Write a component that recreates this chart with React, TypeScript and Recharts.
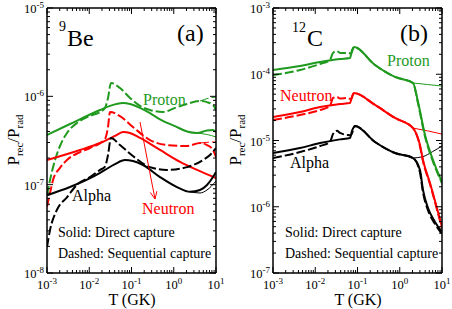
import React from 'react';
import { LineChart, Line, XAxis, YAxis } from 'recharts';

type Pt = [number, number];

const FONT = "'Liberation Serif', 'DejaVu Serif', serif";
const GREEN = '#1f9a1f';
const RED = '#ff0000';
const BLACK = '#000000';

// temperature axis (GK), shared by both panels
const tempMajor = [1e-3, 1e-2, 1e-1, 1, 10];
const beMajor = [1e-8, 1e-7, 1e-6, 1e-5];
const cMajor = [1e-7, 1e-6, 1e-5, 1e-4, 1e-3];
const minorSteps = [2, 3, 4, 5, 6, 7, 8, 9];

// ---- (a) 9Be ----
const beProtonDirect: Pt[] = [
  [1e-3, 3.65e-7], [3.5e-3, 4.86e-7], [1.8e-2, 7.0e-7], [3.1e-2, 7.8e-7], [6.3e-2, 8.4e-7],
  [9.2e-2, 8.2e-7], [0.159, 7.4e-7], [0.274, 6.45e-7], [0.473, 5.5e-7], [1.07, 4.6e-7],
  [2.06, 4.0e-7], [3.55, 3.85e-7], [6.1, 4.1e-7], [8.5, 4.15e-7], [10, 3.95e-7],
];
const beProtonDirectThin: Pt[] = [[3.2, 3.85e-7], [6.1, 3.7e-7], [10, 3.47e-7]];
const beProtonSeq: Pt[] = [
  [1e-3, 7.6e-8], [1.18e-3, 1.13e-7], [1.55e-3, 1.9e-7], [2.03e-3, 2.74e-7], [2.97e-3, 3.85e-7],
  [5.13e-3, 5.0e-7], [1.04e-2, 6.0e-7], [1.8e-2, 6.65e-7], [2.36e-2, 7.4e-7], [2.78e-2, 9.6e-7],
  [3.27e-2, 1.42e-6], [5.34e-2, 1.24e-6], [9.2e-2, 9.6e-7], [0.159, 7.8e-7], [0.274, 7.0e-7],
  [0.557, 6.65e-7], [1.07, 7.4e-7], [2.06, 8.2e-7], [4.18, 8.85e-7], [6.12, 8.6e-7],
  [8.49, 8.0e-7], [10, 7.0e-7],
];
const beProtonSeqThin: Pt[] = [[4.18, 8.85e-7], [7.2, 9.6e-7], [10, 9.8e-7]];

const beNeutronDirect: Pt[] = [
  [1e-3, 1.9e-7], [6.04e-3, 2.47e-7], [1.8e-2, 2.96e-7], [4.07e-2, 3.56e-7], [6.3e-2, 3.95e-7],
  [9.2e-2, 3.85e-7], [0.159, 3.38e-7], [0.473, 2.47e-7], [1.41, 1.81e-7], [3.55, 1.47e-7],
  [10, 1.19e-7],
];
const beNeutronSeq: Pt[] = [
  [1e-3, 5.6e-8], [1.18e-3, 8.05e-8], [1.39e-3, 1.13e-7], [2.03e-3, 1.55e-7], [2.97e-3, 1.9e-7],
  [6.04e-3, 2.34e-7], [1.04e-2, 2.6e-7], [2.36e-2, 3.3e-7], [2.78e-2, 4.5e-7], [3.1e-2, 6.65e-7],
  [5.34e-2, 5.98e-7], [0.108, 4.5e-7], [0.274, 3.2e-7], [0.692, 2.81e-7], [2.06, 2.74e-7],
  [4.18, 2.96e-7], [6.12, 2.81e-7], [8.49, 2.47e-7], [10, 2.06e-7],
];
const beNeutronSeqThin: Pt[] = [[4.18, 2.96e-7], [8.49, 3.04e-7], [10, 3.04e-7]];

const beAlphaDirect: Pt[] = [
  [1e-3, 7.6e-8], [3.5e-3, 9.4e-8], [1.8e-2, 1.36e-7], [2.36e-2, 1.47e-7], [4.07e-2, 1.71e-7],
  [7.0e-2, 1.9e-7], [0.108, 1.85e-7], [0.187, 1.67e-7], [0.473, 1.22e-7], [1.19, 9.4e-8],
  [2.43, 8.3e-8], [4.18, 8.7e-8], [6.12, 9.9e-8], [8.49, 1.22e-7], [10, 1.39e-7],
];
const beAlphaDirectThin: Pt[] = [[2.43, 8.3e-8], [4.18, 8.05e-8], [6.12, 8.7e-8], [10, 1.1e-7]];
const beAlphaSeq: Pt[] = [
  [1e-3, 1.97e-8], [1.18e-3, 3.07e-8], [1.72e-3, 5.2e-8], [2.97e-3, 7.2e-8], [5.13e-3, 1.0e-7],
  [1.04e-2, 1.22e-7], [1.8e-2, 1.47e-7], [2.36e-2, 1.6e-7], [2.78e-2, 2.17e-7], [3.27e-2, 3.38e-7],
  [5.34e-2, 2.81e-7], [0.108, 2.11e-7], [0.274, 1.58e-7], [0.692, 1.47e-7], [2.06, 1.58e-7],
  [4.92, 1.9e-7], [7.21, 2.17e-7], [10, 2.6e-7],
];

// ---- (b) 12C ----
const cProtonDirect: Pt[] = [
  [1e-3, 1.16e-4], [4.35e-3, 1.33e-4], [1.3e-2, 1.53e-4], [3.85e-2, 1.7e-4], [6.64e-2, 1.76e-4],
  [7.41e-2, 2.32e-4], [8.26e-2, 2.57e-4], [0.26, 1.38e-4], [0.772, 9.1e-5], [2.06, 7.38e-5],
  [2.71, 3.81e-5], [3.96, 1.21e-5], [6.12, 5.08e-6], [10, 2.37e-6],
];
const cProtonDirectThin: Pt[] = [[2.06, 7.38e-5], [4.5, 7.0e-5], [10, 6.65e-5]];
const cProtonSeq: Pt[] = [
  [1e-3, 9.7e-5], [4.35e-3, 1.16e-4], [1.3e-2, 1.43e-4], [2.23e-2, 1.64e-4], [2.63e-2, 2.1e-4],
  [3.27e-2, 2.25e-4], [3.85e-2, 2.1e-4], [5.96e-2, 2.1e-4], [7.0e-2, 2.05e-4], [8.26e-2, 2.57e-4],
  [0.26, 1.38e-4], [0.772, 9.1e-5], [2.06, 7.38e-5], [2.71, 3.6e-5], [3.96, 1.15e-5],
  [6.12, 4.8e-6], [10, 2.25e-6],
];

const cNeutronDirect: Pt[] = [
  [1e-3, 2.26e-5], [4.35e-3, 2.69e-5], [1.3e-2, 3.2e-5], [3.85e-2, 3.56e-5], [6.64e-2, 3.68e-5],
  [7.41e-2, 4.6e-5], [8.26e-2, 5.21e-5], [0.26, 3.44e-5], [0.772, 2.19e-5], [2.06, 1.54e-5],
  [3.01, 8.55e-6], [3.55, 5.08e-6], [5.2, 2.28e-6], [10, 4.94e-7],
];
const cNeutronDirectThin: Pt[] = [[2.06, 1.54e-5], [4.5, 1.4e-5], [10, 1.25e-5]];
const cNeutronSeq: Pt[] = [
  [1e-3, 2.04e-5], [4.35e-3, 2.43e-5], [1.3e-2, 2.88e-5], [2.23e-2, 3.32e-5], [2.63e-2, 4.38e-5],
  [3.27e-2, 4.54e-5], [3.85e-2, 4.3e-5], [5.96e-2, 4.38e-5], [7.0e-2, 4.2e-5], [8.26e-2, 5.21e-5],
  [0.26, 3.44e-5], [0.772, 2.19e-5], [2.06, 1.54e-5], [3.01, 8.2e-6], [3.55, 4.85e-6],
  [5.2, 2.18e-6], [10, 4.7e-7],
];

const cAlphaDirect: Pt[] = [
  [1e-3, 6.47e-6], [4.35e-3, 7.7e-6], [1.3e-2, 9.16e-6], [3.85e-2, 1.04e-5], [6.64e-2, 1.09e-5],
  [7.41e-2, 1.4e-5], [8.72e-2, 1.66e-5], [0.26, 9.5e-6], [0.772, 6.47e-6], [2.06, 5.44e-6],
  [3.01, 3.59e-6], [3.55, 1.79e-6], [4.67, 9.57e-7], [6.83, 5.89e-7], [10, 4.16e-7],
];
const cAlphaDirectThin: Pt[] = [[2.06, 5.44e-6], [3.5, 5.7e-6], [6, 6.8e-6], [10, 8.26e-6]];
const cAlphaSeq: Pt[] = [
  [1e-3, 5.44e-6], [4.35e-3, 6.7e-6], [1.3e-2, 8.26e-6], [2.23e-2, 9.5e-6], [2.63e-2, 1.25e-5],
  [3.27e-2, 1.4e-5], [3.85e-2, 1.3e-5], [5.96e-2, 1.21e-5], [7.0e-2, 1.2e-5], [8.72e-2, 1.66e-5],
  [0.26, 9.5e-6], [0.772, 6.47e-6], [2.06, 5.44e-6], [3.01, 3.3e-6], [3.55, 1.65e-6],
  [4.67, 8.8e-7], [6.83, 5.5e-7], [10, 3.9e-7],
];

interface SeriesDef {
  pts: Pt[];
  color: string;
  dash?: boolean;
  thin?: boolean;
}

const beSeries: SeriesDef[] = [
  { pts: beProtonDirectThin, color: GREEN, thin: true },
  { pts: beProtonSeqThin, color: GREEN, thin: true, dash: true },
  { pts: beNeutronSeqThin, color: RED, thin: true, dash: true },
  { pts: beAlphaDirectThin, color: BLACK, thin: true },
  { pts: beProtonDirect, color: GREEN },
  { pts: beProtonSeq, color: GREEN, dash: true },
  { pts: beNeutronDirect, color: RED },
  { pts: beNeutronSeq, color: RED, dash: true },
  { pts: beAlphaDirect, color: BLACK },
  { pts: beAlphaSeq, color: BLACK, dash: true },
];

const cSeries: SeriesDef[] = [
  { pts: cProtonDirectThin, color: GREEN, thin: true },
  { pts: cNeutronDirectThin, color: RED, thin: true },
  { pts: cAlphaDirectThin, color: BLACK, thin: true },
  { pts: cProtonDirect, color: GREEN },
  { pts: cProtonSeq, color: GREEN, dash: true },
  { pts: cNeutronDirect, color: RED },
  { pts: cNeutronSeq, color: RED, dash: true },
  { pts: cAlphaDirect, color: BLACK },
  { pts: cAlphaSeq, color: BLACK, dash: true },
];

const withMinors = (major: number[]) => {
  const out: number[] = [];
  major.forEach((m, i) => {
    out.push(m);
    if (i < major.length - 1) minorSteps.forEach((s) => out.push(m * s));
  });
  return out;
};

const isMajor = (v: number) => Math.abs(Math.log10(v) - Math.round(Math.log10(v))) < 1e-6;
const expOf = (v: number) => String(Math.round(Math.log10(v)));

const serif = { fontFamily: FONT };

const PowLabel = ({ x, y, v, anchor }: { x: number; y: number; v: number; anchor: 'middle' | 'end' }) => (
  <text x={x} y={y} textAnchor={anchor} style={serif} fontSize={12.5} fill="#000">
    10<tspan dy={-5} fontSize={9}>{expOf(v)}</tspan>
  </text>
);

const BottomTick = (props: any) => {
  const { x, y, payload } = props;
  const major = isMajor(payload.value);
  return (
    <g>
      <line x1={x} y1={y} x2={x} y2={y - (major ? 6 : 3)} stroke="#000" strokeWidth={1} />
      {major && <PowLabel x={x} y={y + 16} v={payload.value} anchor="middle" />}
    </g>
  );
};

const TopTick = (props: any) => {
  const { x, y, payload } = props;
  const major = isMajor(payload.value);
  return <line x1={x} y1={y} x2={x} y2={y + (major ? 6 : 3)} stroke="#000" strokeWidth={1} />;
};

const LeftTick = (props: any) => {
  const { x, y, payload } = props;
  const major = isMajor(payload.value);
  return (
    <g>
      <line x1={x} y1={y} x2={x + (major ? 6 : 3)} y2={y} stroke="#000" strokeWidth={1} />
      {major && <PowLabel x={x - 3} y={y + 5} v={payload.value} anchor="end" />}
    </g>
  );
};

const RightTick = (props: any) => {
  const { x, y, payload } = props;
  const major = isMajor(payload.value);
  return <line x1={x} y1={y} x2={x - (major ? 6 : 3)} y2={y} stroke="#000" strokeWidth={1} />;
};

const axisLine = { stroke: '#000', strokeWidth: 1.5 };
const tTicks = withMinors(tempMajor);

const Panel = ({ left, yMajor, series }: { left: number; yMajor: number[]; series: SeriesDef[] }) => {
  const yTicks = withMinors(yMajor);
  const yDomain = [yMajor[0], yMajor[yMajor.length - 1]];
  return (
    <div style={{ position: 'absolute', left, top: 0 }}>
      <LineChart width={226} height={309} margin={{ top: 7, right: 9, bottom: 0, left: 7 }}>
        <XAxis
          xAxisId="b" dataKey="t" type="number" scale="log" domain={[1e-3, 10]} allowDataOverflow
          ticks={tTicks} interval={0} height={36} tickSize={0} tickMargin={0}
          axisLine={axisLine} tickLine={false} tick={(p: any) => <BottomTick {...p} />}
        />
        <XAxis
          xAxisId="t" orientation="top" dataKey="t" type="number" scale="log" domain={[1e-3, 10]} allowDataOverflow
          ticks={tTicks} interval={0} height={1} tickSize={0} tickMargin={0}
          axisLine={axisLine} tickLine={false} tick={(p: any) => <TopTick {...p} />}
        />
        <YAxis
          yAxisId="l" type="number" scale="log" domain={yDomain} allowDataOverflow
          ticks={yTicks} interval={0} width={40} tickSize={0} tickMargin={0}
          axisLine={axisLine} tickLine={false} tick={(p: any) => <LeftTick {...p} />}
        />
        <YAxis
          yAxisId="r" orientation="right" type="number" scale="log" domain={yDomain} allowDataOverflow
          ticks={yTicks} interval={0} width={1} tickSize={0} tickMargin={0}
          axisLine={axisLine} tickLine={false} tick={(p: any) => <RightTick {...p} />}
        />
        {series.map((s, i) => (
          <Line
            key={i}
            xAxisId="b"
            yAxisId="l"
            data={s.pts.map(([t, p]) => ({ t, p }))}
            dataKey="p"
            type="monotone"
            stroke={s.color}
            strokeWidth={s.thin ? 1 : 2}
            strokeDasharray={s.dash ? '9 3' : undefined}
            dot={false}
            activeDot={false}
            isAnimationActive={false}
          />
        ))}
      </LineChart>
    </div>
  );
};

const YTitle = ({ x }: { x: number }) => (
  <text transform={`rotate(-90 ${x} 140)`} x={x} y={140} textAnchor="middle" style={serif} fontSize={17}>
    P<tspan fontSize={11} dy={4}>rec</tspan>
    <tspan dy={-4}>/P</tspan>
    <tspan fontSize={11} dy={4}>rad</tspan>
  </text>
);

const Txt = (p: { x: number; y: number; size: number; fill?: string; children: React.ReactNode }) => (
  <text x={p.x} y={p.y} fontSize={p.size} fill={p.fill || '#000'} style={serif}>{p.children}</text>
);

const Notes = () => (
  <svg width={452} height={309} style={{ position: 'absolute', left: 0, top: 0, pointerEvents: 'none' }}>
    <YTitle x={19} />
    <YTitle x={241} />
    <text x={132} y={305} textAnchor="middle" style={serif} fontSize={16}>T (GK)</text>
    <text x={358} y={305} textAnchor="middle" style={serif} fontSize={16}>T (GK)</text>

    <Txt x={59} y={31} size={14}>9</Txt>
    <Txt x={67} y={46} size={24}>Be</Txt>
    <Txt x={177} y={41} size={24}>(a)</Txt>
    <Txt x={292} y={32} size={14}>12</Txt>
    <Txt x={307} y={46} size={24}>C</Txt>
    <Txt x={400} y={41} size={24}>(b)</Txt>

    <Txt x={143} y={105} size={16} fill={GREEN}>Proton</Txt>
    <Txt x={142} y={214} size={16} fill={RED}>Neutron</Txt>
    <Txt x={72} y={201} size={16}>Alpha</Txt>
    <line x1={140} y1={122} x2={155} y2={199} stroke={RED} strokeWidth={1} />
    <polyline points="150.3,192.5 155,199 156.9,191.2" fill="none" stroke={RED} strokeWidth={1} />
    <Txt x={58} y={237} size={14}>Solid: Direct capture</Txt>
    <Txt x={58} y={258} size={14}>Dashed: Sequential capture</Txt>

    <Txt x={387} y={66} size={16} fill={GREEN}>Proton</Txt>
    <Txt x={280} y={101} size={16} fill={RED}>Neutron</Txt>
    <Txt x={290} y={168} size={16}>Alpha</Txt>
    <Txt x={285} y={237} size={14}>Solid: Direct capture</Txt>
    <Txt x={285} y={258} size={14}>Dashed: Sequential capture</Txt>
  </svg>
);

export default function App() {
  return (
    <div style={{ position: 'absolute', left: 0, top: 0, width: 452, height: 309, background: '#fff', fontFamily: FONT }}>
      <Panel left={0} yMajor={beMajor} series={beSeries} />
      <Panel left={226} yMajor={cMajor} series={cSeries} />
      <Notes />
    </div>
  );
}
